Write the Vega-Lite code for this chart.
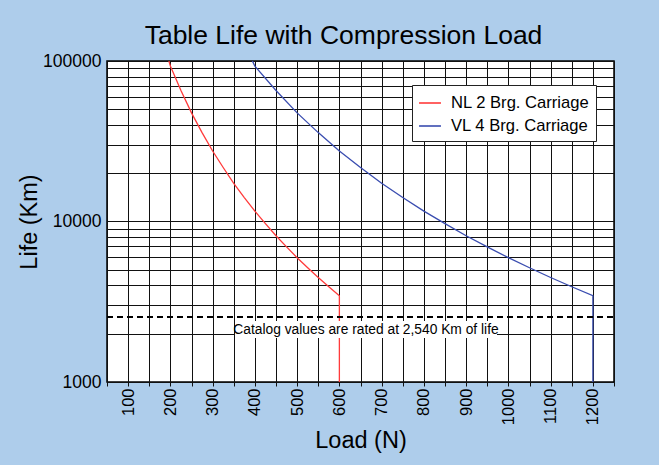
{
  "$schema": "https://vega.github.io/schema/vega-lite/v6.json",
  "autosize": "none",
  "width": 507,
  "height": 321,
  "padding": {"left": 107, "top": 61, "right": 45, "bottom": 83},
  "background": "#AECDEB",
  "config": {
    "font": "Liberation Sans",
    "view": {"fill": "white", "stroke": "black", "strokeWidth": 1.5},
    "axis": {"domain": false, "gridColor": "#111", "gridOpacity": 1, "gridWidth": 1, "labelColor": "black", "titleColor": "black", "titleFontWeight": "normal", "tickColor": "#111", "labelOverlap": false}
  },
  "title": {"text": "Table Life with Compression Load", "fontSize": 26.5, "fontWeight": "normal", "color": "black", "anchor": "middle", "dx": -17, "dy": 28, "offset": 10, "baseline": "alphabetic"},
  "encoding": {
    "x": {"field": "load", "type": "quantitative",
      "scale": {"domain": [50, 1250], "nice": false, "zero": false},
      "axis": {"title": "Load (N)", "titleFontSize": 23.5, "titlePadding": 4, "values": [50,100,150,200,250,300,350,400,450,500,550,600,650,700,750,800,850,900,950,1000,1050,1100,1150,1200,1250], "labelExpr": "(datum.value % 100 === 0 && datum.value < 1250) ? format(datum.value, 'd') : ''", "labelAngle": 270, "labelAlign": "right", "labelBaseline": "middle", "labelFontSize": 16.5, "tickSize": 4, "labelPadding": 2, "labelBound": false, "labelFlush": false}},
    "y": {"field": "life", "type": "quantitative",
      "scale": {"type": "log", "domain": [1000, 100000], "nice": false},
      "axis": {"title": "Life (Km)", "titleFontSize": 23.5, "titlePadding": 1, "values": [1000,2000,3000,4000,5000,6000,7000,8000,9000,10000,20000,30000,40000,50000,60000,70000,80000,90000,100000], "labelExpr": "(datum.value == 1000 || datum.value == 10000 || datum.value == 100000) ? format(datum.value, 'd') : ''", "labelFontSize": 17.5, "tickSize": 0, "labelPadding": 6}}
  },
  "layer": [
    {
      "data": {"values": [
        {"series": "NL 2 Brg. Carriage", "idx": 0, "load": 196.5, "life": 100000},
        {"series": "NL 2 Brg. Carriage", "idx": 1, "load": 200, "life": 93000},
        {"series": "NL 2 Brg. Carriage", "idx": 2, "load": 225, "life": 65500},
        {"series": "NL 2 Brg. Carriage", "idx": 3, "load": 250, "life": 47500},
        {"series": "NL 2 Brg. Carriage", "idx": 4, "load": 275, "life": 35800},
        {"series": "NL 2 Brg. Carriage", "idx": 5, "load": 300, "life": 27500},
        {"series": "NL 2 Brg. Carriage", "idx": 6, "load": 325, "life": 21700},
        {"series": "NL 2 Brg. Carriage", "idx": 7, "load": 350, "life": 17300},
        {"series": "NL 2 Brg. Carriage", "idx": 8, "load": 375, "life": 14100},
        {"series": "NL 2 Brg. Carriage", "idx": 9, "load": 400, "life": 11600},
        {"series": "NL 2 Brg. Carriage", "idx": 10, "load": 425, "life": 9700},
        {"series": "NL 2 Brg. Carriage", "idx": 11, "load": 450, "life": 8150},
        {"series": "NL 2 Brg. Carriage", "idx": 12, "load": 475, "life": 6950},
        {"series": "NL 2 Brg. Carriage", "idx": 13, "load": 500, "life": 5950},
        {"series": "NL 2 Brg. Carriage", "idx": 14, "load": 525, "life": 5150},
        {"series": "NL 2 Brg. Carriage", "idx": 15, "load": 550, "life": 4480},
        {"series": "NL 2 Brg. Carriage", "idx": 16, "load": 575, "life": 3920},
        {"series": "NL 2 Brg. Carriage", "idx": 17, "load": 600, "life": 3450},
        {"series": "NL 2 Brg. Carriage", "idx": 18, "load": 600, "life": 1000},
        {"series": "VL 4 Brg. Carriage", "idx": 0, "load": 394, "life": 100000},
        {"series": "VL 4 Brg. Carriage", "idx": 1, "load": 400, "life": 93000},
        {"series": "VL 4 Brg. Carriage", "idx": 2, "load": 450, "life": 65500},
        {"series": "VL 4 Brg. Carriage", "idx": 3, "load": 500, "life": 47500},
        {"series": "VL 4 Brg. Carriage", "idx": 4, "load": 550, "life": 35800},
        {"series": "VL 4 Brg. Carriage", "idx": 5, "load": 600, "life": 27500},
        {"series": "VL 4 Brg. Carriage", "idx": 6, "load": 650, "life": 21700},
        {"series": "VL 4 Brg. Carriage", "idx": 7, "load": 700, "life": 17300},
        {"series": "VL 4 Brg. Carriage", "idx": 8, "load": 750, "life": 14100},
        {"series": "VL 4 Brg. Carriage", "idx": 9, "load": 800, "life": 11600},
        {"series": "VL 4 Brg. Carriage", "idx": 10, "load": 850, "life": 9700},
        {"series": "VL 4 Brg. Carriage", "idx": 11, "load": 900, "life": 8150},
        {"series": "VL 4 Brg. Carriage", "idx": 12, "load": 950, "life": 6950},
        {"series": "VL 4 Brg. Carriage", "idx": 13, "load": 1000, "life": 5950},
        {"series": "VL 4 Brg. Carriage", "idx": 14, "load": 1050, "life": 5150},
        {"series": "VL 4 Brg. Carriage", "idx": 15, "load": 1100, "life": 4480},
        {"series": "VL 4 Brg. Carriage", "idx": 16, "load": 1150, "life": 3920},
        {"series": "VL 4 Brg. Carriage", "idx": 17, "load": 1200, "life": 3450},
        {"series": "VL 4 Brg. Carriage", "idx": 18, "load": 1200, "life": 1000}
      ]},
      "mark": {"type": "line", "strokeWidth": 1.3, "clip": true},
      "encoding": {
        "color": {"field": "series", "type": "nominal",
          "scale": {"domain": ["NL 2 Brg. Carriage", "VL 4 Brg. Carriage"], "range": ["#FF3B3B", "#3A4DB0"]},
          "legend": {"title": null, "orient": "none", "legendX": 305, "legendY": 24, "fillColor": "white", "strokeColor": "#222", "padding": 6, "symbolType": "stroke", "symbolSize": 480, "symbolStrokeWidth": 1.6, "labelFontSize": 16.6, "labelColor": "black", "labelOffset": 9, "rowPadding": 2}},
        "order": {"field": "idx", "type": "quantitative"}
      }
    },
    {
      "data": {"values": [{"load": 50, "life": 2540}, {"load": 1250, "life": 2540}]},
      "mark": {"type": "line", "strokeDash": [6, 4], "strokeWidth": 2, "color": "black"}
    },
    {
      "data": {"values": [{"load": 353, "load2": 973, "life": 1880, "life2": 2400}]},
      "mark": {"type": "rect", "fill": "white"},
      "encoding": {"x2": {"field": "load2"}, "y2": {"field": "life2"}}
    },
    {
      "data": {"values": [{"load": 663, "life": 2110, "note": "Catalog values are rated at 2,540 Km of life"}]},
      "mark": {"type": "text", "fontSize": 13.8, "color": "black", "align": "center", "baseline": "middle"},
      "encoding": {"text": {"field": "note"}}
    }
  ]
}
